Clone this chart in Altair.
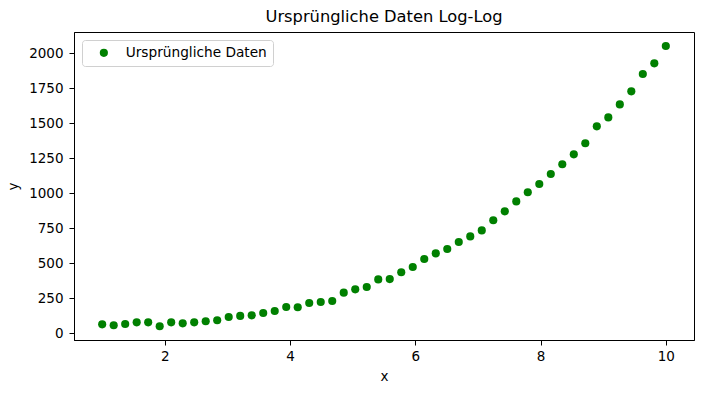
import altair as alt
import pandas as pd
import numpy as np

x_vals = list(np.linspace(1, 10, 50))
y_vals = [62, 55, 64, 76, 76, 48, 76, 69, 76, 84,
          91, 114, 122, 126, 143, 157, 186, 184, 214, 221,
          229, 288, 312, 329, 383, 385, 434, 471, 529, 569,
          600, 650, 690, 733, 805, 869, 940, 1005, 1064, 1136,
          1205, 1276, 1355, 1476, 1540, 1633, 1726, 1850, 1926, 2050]
series = ["Ursprüngliche Daten"] * len(x_vals)

df = pd.DataFrame({"x": x_vals, "y": y_vals, "s": series})

font = "DejaVu Sans"

chart = alt.Chart(df).mark_circle(size=66, opacity=1).encode(
    x=alt.X("x:Q", title="x",
            scale=alt.Scale(domain=[0.55, 10.45], nice=False, zero=False),
            axis=alt.Axis(values=[2, 4, 6, 8, 10], grid=False, tickSize=5,
                          labelPadding=4, titlePadding=7, format="d")),
    y=alt.Y("y:Q", title="y",
            scale=alt.Scale(domain=[-50, 2150], nice=False, zero=False),
            axis=alt.Axis(values=list(range(0, 2001, 250)), grid=False, tickSize=5,
                          labelPadding=6, titlePadding=8, format="d")),
    color=alt.Color("s:N", title=None,
                    scale=alt.Scale(range=["#008000"]),
                    legend=alt.Legend(orient="top-left", offset=8, padding=6,
                                      symbolOffset=9, labelOffset=15,
                                      strokeColor="#d0d0d0", cornerRadius=3,
                                      fillColor="white", symbolSize=66,
                                      symbolType="circle", labelFontSize=13.7,
                                      labelFont=font, labelColor="black"))
).properties(
    width=620, height=308,
    title=alt.TitleParams("Ursprüngliche Daten Log-Log", fontSize=16.3,
                          font=font, fontWeight="normal", color="black",
                          offset=7),
    autosize=alt.AutoSizeParams(type="none"),
    padding={"left": 74, "top": 32, "right": 10, "bottom": 53},
).configure_view(
    stroke="black", strokeWidth=1
).configure_axis(
    labelFont=font, titleFont=font, labelFontSize=13.5, titleFontSize=13.5,
    labelColor="black", titleColor="black", tickColor="black",
    domainColor="black", titleFontWeight="normal"
)

chart.save("out.html", embed_options={"renderer": "svg", "actions": False})
